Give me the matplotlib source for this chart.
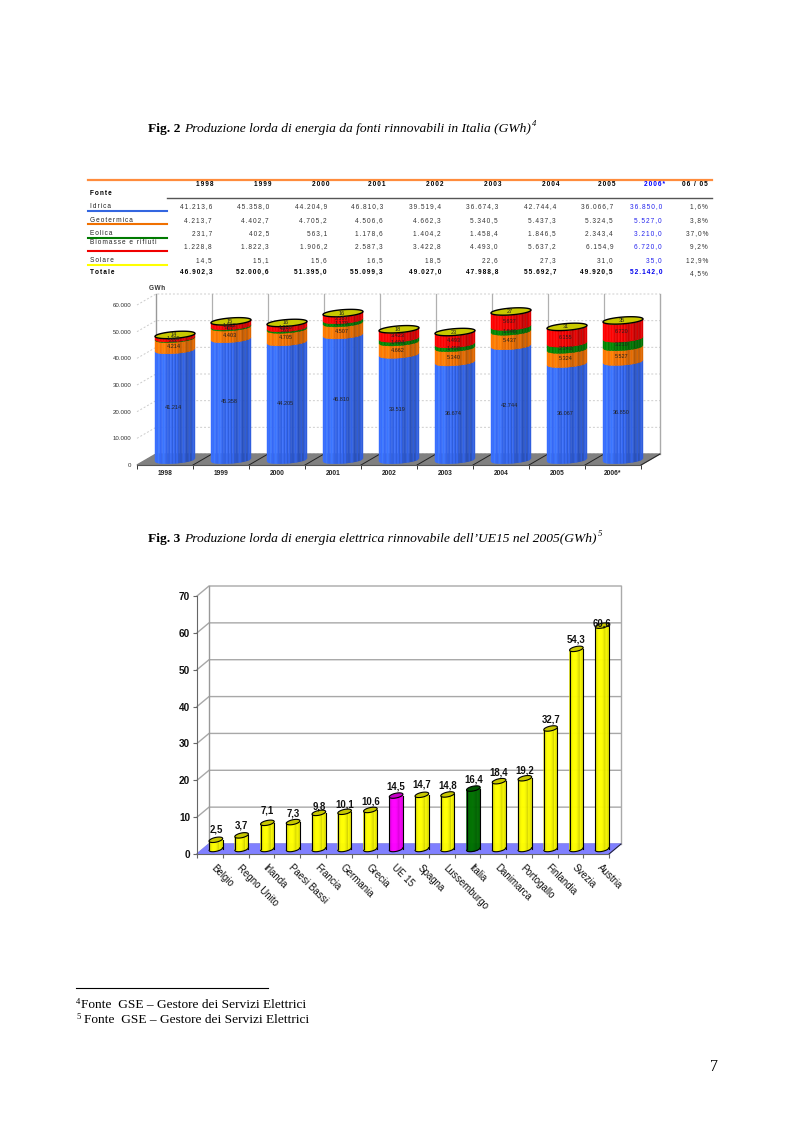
import numpy as np
import matplotlib
matplotlib.use('Agg')
from matplotlib import pyplot as plt

W, H = 793, 1123

years = ['1998', '1999', '2000', '2001', '2002', '2003', '2004', '2005', '2006*']
idrica = [41213.6, 45358.0, 44204.9, 46810.3, 39519.4, 36674.3, 42744.4, 36066.7, 36850.0]
geotermica = [4213.7, 4402.7, 4705.2, 4506.6, 4662.3, 5340.5, 5437.3, 5324.5, 5527.0]
eolica = [231.7, 402.5, 563.1, 1178.6, 1404.2, 1458.4, 1846.5, 2343.4, 3210.0]
biomasse = [1228.8, 1822.3, 1906.2, 2587.3, 3422.8, 4493.0, 5637.2, 6154.9, 6720.0]
solare = [14.5, 15.1, 15.6, 16.5, 18.5, 22.6, 27.3, 31.0, 35.0]
totale = [46902.3, 52000.6, 51395.0, 55099.3, 49027.0, 47988.8, 55692.7, 49920.5, 52142.0]
var_0605 = ['1,6%', '3,8%', '37,0%', '9,2%', '12,9%', '4,5%']
yticks1 = [0, 10000, 20000, 30000, 40000, 50000, 60000]

paesi = ['Belgio', 'Regno Unito', 'Irlanda', 'Paesi Bassi', 'Francia', 'Germania', 'Grecia', 'UE 15',
         'Spagna', 'Lussemburgo', 'Italia', 'Danimarca', 'Portogallo', 'Finlandia', 'Svezia', 'Austria']
produzione = [2.5, 3.7, 7.1, 7.3, 9.8, 10.1, 10.6, 14.5, 14.7, 14.8, 16.4, 18.4, 19.2, 32.7, 54.3, 60.6]
yticks2 = [0, 10, 20, 30, 40, 50, 60, 70]

BLUE, ORANGE, GREEN, RED, OLIVE = '#3366f0', '#f07000', '#007a00', '#f00000', '#c8c800'
SERIF = 'Liberation Serif'
SANS = ['Liberation Sans', 'DejaVu Sans']

fig = plt.figure(figsize=(W / 100, H / 100), dpi=100)


def px_axes(x0, y0, x1, y1):
    return fig.add_axes([x0 / W, 1 - y1 / H, (x1 - x0) / W, (y1 - y0) / H])


def spaced(s):
    # the table text is letter-spaced in the original
    return '\u200a\u200a'.join(s)


def num(v, dec=1):
    return f'{v:,.{dec}f}'.replace(',', '#').replace('.', ',').replace('#', '.')


def shade(col, f):
    c = np.array(matplotlib.colors.to_rgb(col)) * f
    return tuple(np.clip(c, 0, 1))


def cylinder(ax, xc, base, height, col, hw, b, tilt, profile, n=26):
    # body of a cylinder as thin vertical strips, front curves at both ends
    us = np.linspace(-1, 1, n + 1)
    front = -b * np.sqrt(1 - us ** 2) + tilt * us
    for i in range(n):
        xs = [xc + hw * us[i], xc + hw * us[i + 1], xc + hw * us[i + 1], xc + hw * us[i]]
        ys = [base + front[i], base + front[i + 1], base + height + front[i + 1], base + height + front[i]]
        c = shade(col, profile(i, n))
        ax.fill(xs, ys, color=c, lw=0.3, clip_on=False, zorder=4)


def top_cap(ax, xc, y, col, hw, b, tilt, lw):
    t = np.linspace(0, 2 * np.pi, 60)
    ax.fill(xc + hw * np.cos(t), y + b * np.sin(t) + tilt * np.cos(t), facecolor=col, edgecolor='black',
            lw=lw, clip_on=False, zorder=6)


def profile1(i, n):
    f = 1.08 - 0.38 * i / n
    if i % 4 == 2 or i % 7 == 5:
        f += 0.14
    if i >= n - 2:
        f += 0.2
    return f


def profile2(i, n):
    u = i / n
    return 0.82 + 0.2 * np.sin(np.pi * min(u / 0.75, 1.0)) if u < 0.75 else 1.0 - 0.6 * (u - 0.75)


# page: text, rules and table in pixel coordinates
page = px_axes(0, 0, W, H)
page.set_xlim(0, W)
page.set_ylim(H, 0)
page.axis('off')


def caption(y, fig_txt, body, note, x_body, x_note):
    page.text(148, y, fig_txt, family=SERIF, weight='bold', fontsize=9.7, va='baseline')
    page.text(x_body, y, body, family=SERIF, style='italic', fontsize=9.7, va='baseline')
    page.text(x_note, y - 6, note, family=SERIF, style='italic', fontsize=6.2, va='baseline')


caption(132, 'Fig. 2', 'Produzione lorda di energia da fonti rinnovabili in Italia (GWh)', '4', 184, 532)
caption(542, 'Fig. 3', 'Produzione lorda di energia elettrica rinnovabile dell\u2019UE15 nel 2005(GWh)', '5', 184, 598)

# table
page.plot([88, 712], [180, 180], color='#ff8c3c', lw=1.6)
page.plot([167, 712], [197.5, 197.5], color='#555555', lw=1.0)
head_x = [214, 272, 329, 386, 443, 501, 559, 616, 665]
val_x = [212, 269, 327, 383, 441, 498, 556, 613, 662]
TXT = dict(family=SANS, fontsize=4.7, va='center')
for x, y_ in zip(head_x, years):
    c = '#0000ff' if y_.endswith('*') else 'black'
    page.text(x, 184.7, spaced(y_), ha='right', weight='bold', color=c, **TXT)
page.text(708, 184.7, spaced('06 / 05'), ha='right', weight='bold', **TXT)
page.text(90, 193.7, spaced('Fonte'), weight='bold', **TXT)

row_y = [206.7, 220.7, 233.7, 246.7, 260.7]
label_y = [206.7, 220.7, 233.7, 242.7, 260.7]
names = ['Idrica', 'Geotermica', 'Eolica', 'Biomasse e rifiuti', 'Solare']
rule_y = [211, 224, 238, 251, 265]
rule_c = ['#3366e0', '#f07000', GREEN, '#f00000', '#ffff00']
series = [idrica, geotermica, eolica, biomasse, solare]
for k, s in enumerate(series):
    page.text(90, label_y[k], spaced(names[k]), color='#222222', **TXT)
    page.plot([88, 167], [rule_y[k], rule_y[k]], color=rule_c[k], lw=1.5)
    for j, v in enumerate(s):
        c = '#2222ee' if j == 8 else '#333333'
        page.text(val_x[j], row_y[k], spaced(num(v)), ha='right', color=c, **TXT)
    page.text(708, row_y[k], spaced(var_0605[k]), ha='right', color='#333333', **TXT)
page.text(90, 272.3, spaced('Totale'), weight='bold', **TXT)
for j, v in enumerate(totale):
    c = '#0000ee' if j == 8 else 'black'
    page.text(val_x[j], 272.3, spaced(num(v)), ha='right', weight='bold', color=c, **TXT)
page.text(708, 274, spaced(var_0605[5]), ha='right', color='#333333', **TXT)

# footnotes and page number
page.plot([76, 268], [988, 988], color='black', lw=0.8)
page.text(76, 1004, '4', family=SERIF, fontsize=6.2, va='baseline')
page.text(81, 1008, 'Fonte  GSE \u2013 Gestore dei Servizi Elettrici', family=SERIF, fontsize=9.6, va='baseline')
page.text(76, 1019, '5', family=SERIF, fontsize=6.2, va='baseline')
page.text(84, 1023, 'Fonte  GSE \u2013 Gestore dei Servizi Elettrici', family=SERIF, fontsize=9.6, va='baseline')
page.text(710, 1071, '7', family=SERIF, fontsize=11.5, va='baseline')


def frame(ax, n, ymax, dx, dy, floor, grid_kw, ticks):
    ax.set_xlim(0, n)
    ax.set_ylim(0, ymax)
    ax.patch.set_alpha(0)
    for s in ['top', 'right']:
        ax.spines[s].set_visible(False)
    ax.fill([0, n, n + dx, dx], [0, 0, dy, dy], color=floor, clip_on=False, zorder=1)
    for t in ticks:
        ax.plot([0, dx, n + dx], [t, t + dy, t + dy], clip_on=False, zorder=0.5, **grid_kw)
    ax.plot([dx, dx], [dy, ymax + dy], color='#999999', lw=1, clip_on=False, zorder=0.6)
    ax.plot([n + dx, n + dx], [dy, ymax + dy], color='#aaaaaa', lw=1, clip_on=False, zorder=0.6)
    ax.plot([n, n + dx], [0, dy], color='#222222', lw=0.7, clip_on=False, zorder=2)


# Fig. 2: stacked cylinders
ax1 = px_axes(137, 305, 641, 465)
xu, yu = 1 / 56, 60000 / 160
frame(ax1, len(years), 60000, 19 * xu, 11 * yu, '#808080',
      dict(color='#cccccc', lw=0.7, ls=(0, (2, 2))), yticks1)
for k in range(1, len(years)):
    ax1.plot([k + 19 * xu] * 2, [11 * yu, 60000 + 11 * yu], color='#b0b0b0', lw=0.9, clip_on=False, zorder=0.6)
    ax1.plot([k, k + 19 * xu], [0, 11 * yu], color='#222222', lw=0.7, clip_on=False, zorder=2)
ax1.set_xticks(range(len(years) + 1))
ax1.set_xticklabels([])
ax1.set_xticks(np.arange(len(years)) + 0.5, years, minor=True)
ax1.tick_params(axis='x', which='minor', length=0, pad=3.5, labelsize=4.8, labelcolor='#222222')
ax1.tick_params(axis='x', which='major', length=3, width=0.7, color='#333333')
ax1.set_yticks(yticks1, [num(t, 0) for t in yticks1])
ax1.tick_params(axis='y', length=0, pad=4, labelsize=4.4, labelcolor='#333333')
for lb in ax1.get_xticklabels(minor=True) + ax1.get_yticklabels():
    lb.set_family(SANS)
for lb in ax1.get_xticklabels(minor=True):
    lb.set_weight('bold')
for s in ['left', 'bottom']:
    ax1.spines[s].set_color('#555555')
    ax1.spines[s].set_linewidth(0.8)
ax1.spines['left'].set_visible(False)
page.text(149, 289, 'G\u200aW\u200ah', family=SANS, fontsize=4.7, weight='bold', va='center', color='#333333')

for j in range(len(years)):
    xc = j + 0.5 + 10 * xu
    bottom = 5 * yu
    for s, col in zip(series, [BLUE, ORANGE, GREEN, RED, OLIVE]):
        v = s[j]
        cylinder(ax1, xc, bottom, v, col, 20 * xu, 3.4 * yu, 1.5 * yu, profile1)
        if col != OLIVE:
            ax1.text(xc - 1.5 * xu, bottom + v / 2 - 2 * yu, num(v, 0), family=SANS, fontsize=4, ha='center',
                     va='center', color='#222222', zorder=7, clip_on=False)
        bottom += v
    top_cap(ax1, xc, bottom, OLIVE, 20 * xu, 3.4 * yu, 1.5 * yu, 1.0)
    # solar label sits on the cap
    ax1.text(xc - 1.5 * xu, bottom, num(solare[j], 0), family=SANS, fontsize=4, ha='center', va='center',
             color='#222222', zorder=8, clip_on=False)

# Fig. 3: single cylinders
ax2 = px_axes(197, 596, 609, 854)
n2 = len(paesi)
xu2, yu2 = 1 / 25.75, 70 / 258
frame(ax2, n2, 70, 12 * xu2, 10 * yu2, '#8080ff', dict(color='#a8a8a8', lw=1.0), yticks2)
ax2.set_xticks(range(n2 + 1))
ax2.set_xticklabels([])
ax2.tick_params(axis='x', which='major', length=3, width=0.8, color='#666666')
for j, p in enumerate(paesi):
    ax2.text(j + 0.5 + 3 * xu2, -12 * yu2, p, rotation=-45, ha='left', va='center', rotation_mode='anchor',
             family=SANS, fontsize=7, color='#111111', clip_on=False)
ax2.set_yticks(yticks2, [str(t) for t in yticks2])
ax2.tick_params(axis='y', length=3, width=0.8, color='#666666', pad=2)
for lb in ax2.get_yticklabels():
    lb.set(family=SANS, fontsize=7.2, weight='bold', color='#111111')
for s in ['left', 'bottom']:
    ax2.spines[s].set_color('#666666')

label_raise = [10, 10, 12, 9, 6, 7, 8, 9, 10, 9, 9, 9, 8, 9, 9, 2]
colori = {'UE 15': '#ff00ff', 'Italia': '#007000'}
for j, (p, v) in enumerate(zip(paesi, produzione)):
    xc = j + 0.5 + 6 * xu2
    base = 5 * yu2
    col = colori.get(p, '#ffff00')
    cylinder(ax2, xc, base, v, col, 6.8 * xu2, 2.4 * yu2, 1.3 * yu2, profile2)
    hw, b = 6.8 * xu2, 2.4 * yu2
    ax2.plot([xc - hw, xc - hw], [base, base + v], color='black', lw=0.8, clip_on=False, zorder=5)
    ax2.plot([xc + hw, xc + hw], [base, base + v], color='black', lw=0.8, clip_on=False, zorder=5)
    us = np.linspace(-1, 1, 30)
    ax2.plot(xc + hw * us, base - b * np.sqrt(1 - us ** 2) + 1.3 * yu2 * us, color='black', lw=0.8,
             clip_on=False, zorder=5)
    cap = shade(col, 0.78)
    top_cap(ax2, xc, base + v, cap, hw, b, 1.3 * yu2, 0.8)
    ax2.text(xc, base + v + label_raise[j] * yu2, num(v), family=SANS, fontsize=6.9, weight='bold', ha='center',
             va='center', color='#111111', zorder=7, clip_on=False)

fig.savefig('out.png', dpi=100)
